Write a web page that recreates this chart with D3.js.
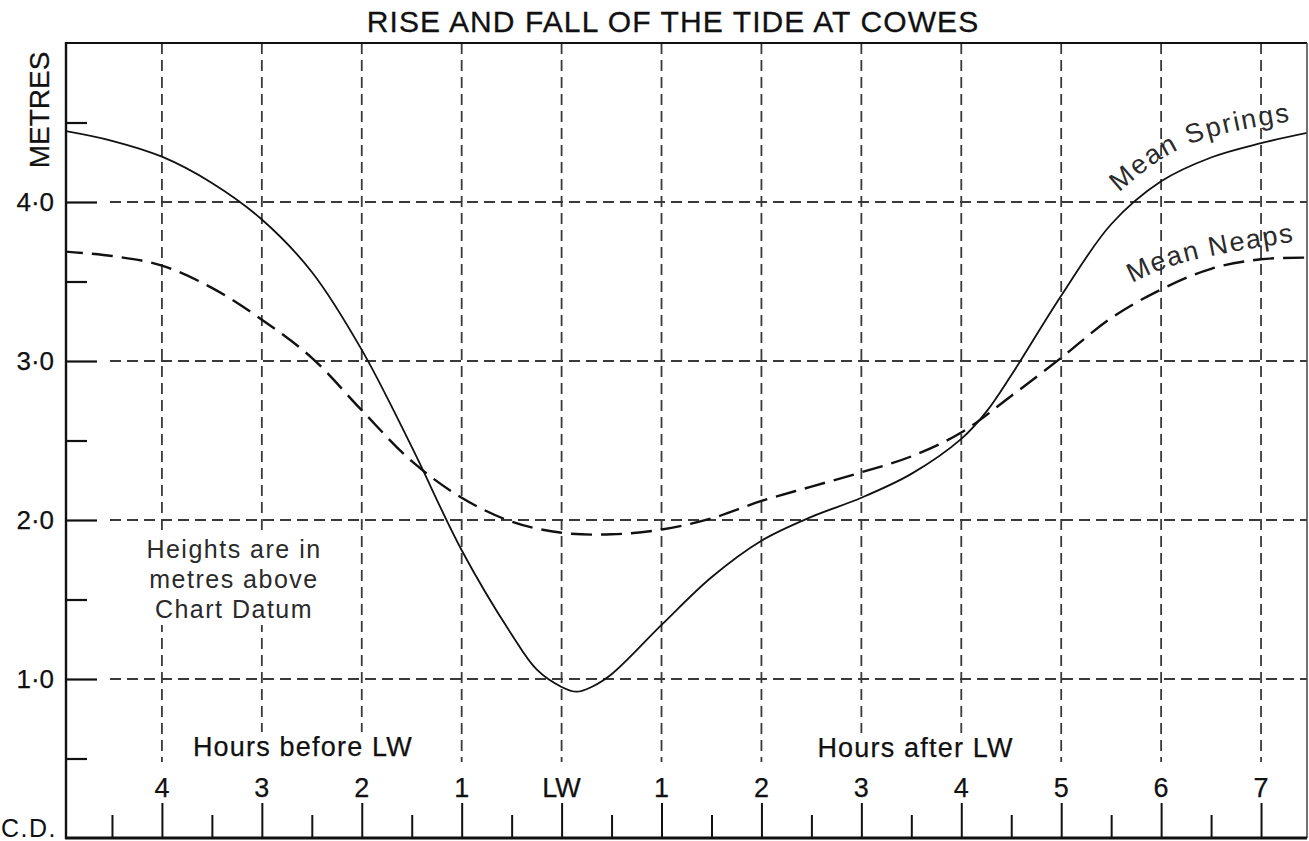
<!DOCTYPE html>
<html>
<head>
<meta charset="utf-8">
<script src="https://cdn.jsdelivr.net/npm/d3@7"></script>
<style>
  html, body { margin: 0; padding: 0; background: #fff; }
  svg { display: block; font-family: "Liberation Sans", Arial, Helvetica, sans-serif; }
</style>
</head>
<body>
<svg id="chart" width="1309" height="841"></svg>
<script>
// ---------------- DATA ----------------
const title = "RISE AND FALL OF THE TIDE AT COWES";

// Hours relative to low water (negative = before LW)
const springsHours = [-5, -4.5, -4, -3.5, -3, -2.5, -2, -1.5, -1, -0.5, -0.25, 0, 0.15, 0.3, 0.5, 1, 1.5, 2, 2.5, 3, 3.5, 4, 4.25, 4.5, 5, 5.5, 6, 6.5, 7, 7.5];
const springsHeights = [4.45, 4.385, 4.285, 4.12, 3.89, 3.56, 3.07, 2.46, 1.81, 1.28, 1.06, 0.95, 0.92, 0.95, 1.03, 1.34, 1.64, 1.87, 2.02, 2.14, 2.29, 2.51, 2.68, 2.91, 3.41, 3.86, 4.13, 4.28, 4.37, 4.44];

const neapsHours = [-5, -4.5, -4, -3.5, -3, -2.5, -2, -1.5, -1, -0.5, 0, 0.5, 1, 1.5, 2, 2.5, 3, 3.5, 4, 4.5, 5, 5.5, 6, 6.5, 7, 7.5];
const neapsHeights = [3.69, 3.66, 3.60, 3.46, 3.26, 3.02, 2.69, 2.37, 2.14, 1.99, 1.92, 1.91, 1.94, 2.01, 2.12, 2.21, 2.30, 2.40, 2.55, 2.78, 3.02, 3.27, 3.45, 3.58, 3.64, 3.65];

const hourTicks = [-4, -3, -2, -1, 0, 1, 2, 3, 4, 5, 6, 7];
const hourTickLabels = ["4", "3", "2", "1", "LW", "1", "2", "3", "4", "5", "6", "7"];
const halfHourTicks = [-4.5, -3.5, -2.5, -1.5, -0.5, 0.5, 1.5, 2.5, 3.5, 4.5, 5.5, 6.5];

const metreTicks = [1, 2, 3, 4];
const metreTickLabels = ["1·0", "2·0", "3·0", "4·0"];
const halfMetreTicks = [0.5, 1.5, 2.5, 3.5, 4.5];

// label guide paths (hours, metres)
const springsLabelPts = [[5.58, 4.06], [6.28, 4.36], [7.31, 4.51]];
const neapsLabelPts = [[5.71, 3.49], [6.29, 3.63], [7.32, 3.75]];

// ---------------- LAYOUT ----------------
const svg = d3.select("#chart");
const L = 66, R = 1307, T = 43, B = 838;

const x = d3.scaleLinear().domain([-4.96, 7.46]).range([L, R]);
const y = d3.scaleLinear().domain([0, 5]).range([B, T]);

const ink = "#111";
const gridInk = "#3a3a3a";

// clip
svg.append("defs").append("clipPath").attr("id", "plotClip")
  .append("rect").attr("x", L).attr("y", T).attr("width", R - L).attr("height", B - T);

// title
svg.append("text")
  .attr("x", 673).attr("y", 32)
  .attr("text-anchor", "middle")
  .attr("font-size", 30).attr("letter-spacing", 1.1)
  .attr("fill", ink).attr("stroke", ink).attr("stroke-width", 0.3)
  .text(title);

// ---------------- GRID ----------------
const grid = svg.append("g");
const gridBottom = B - 76;

grid.selectAll("line.v").data(hourTicks).enter().append("line")
  .attr("x1", d => x(d)).attr("x2", d => x(d))
  .attr("y1", T).attr("y2", gridBottom)
  .attr("stroke", gridInk).attr("stroke-width", 1.8)
  .attr("stroke-dasharray", "11,6");

grid.selectAll("line.h").data(metreTicks).enter().append("line")
  .attr("x1", L + 44).attr("x2", R)
  .attr("y1", d => y(d)).attr("y2", d => y(d))
  .attr("stroke", gridInk).attr("stroke-width", 1.8)
  .attr("stroke-dasharray", "11,6");

// helper: text with white backing
function maskedText(g, xPos, yPos, str, opts) {
  const t = g.append("text")
    .attr("x", xPos).attr("y", yPos)
    .attr("text-anchor", opts.anchor || "start")
    .attr("font-size", opts.size).attr("letter-spacing", opts.ls || 0)
    .attr("fill", opts.fill || ink).attr("stroke", opts.fill || ink).attr("stroke-width", 0.25)
    .text(str);
  const bb = t.node().getBBox();
  g.insert("rect", () => t.node())
    .attr("x", bb.x - 3).attr("y", bb.y).attr("width", bb.width + 6).attr("height", bb.height)
    .attr("fill", "#fff");
  return t;
}

const labels = svg.append("g");
maskedText(labels, x(-3.69), 756, "Hours before LW", { size: 27, ls: 1.2 });
maskedText(labels, x(2.56), 757, "Hours after LW", { size: 27, ls: 1.2 });

// Heights note
const note = svg.append("g");
const noteLines = ["Heights are in", "metres above", "Chart Datum"];
const noteText = note.append("text")
  .attr("text-anchor", "middle")
  .attr("font-size", 25).attr("letter-spacing", 1.5)
  .attr("fill", "#2a2a2a");
noteLines.forEach((s, i) => {
  noteText.append("tspan").attr("x", 234).attr("y", 558 + i * 30).text(s);
});
const nb = noteText.node().getBBox();
note.insert("rect", () => noteText.node())
  .attr("x", nb.x - 4).attr("y", nb.y - 2).attr("width", nb.width + 8).attr("height", nb.height + 4)
  .attr("fill", "#fff");

// ---------------- CURVES ----------------
const line = d3.line()
  .x(d => x(d[0])).y(d => y(d[1]))
  .curve(d3.curveCatmullRom.alpha(0.5));

const curves = svg.append("g").attr("clip-path", "url(#plotClip)");

curves.append("path")
  .datum(neapsHours.map((h, i) => [h, neapsHeights[i]]))
  .attr("d", line)
  .attr("fill", "none").attr("stroke", ink)
  .attr("stroke-width", 2.4).attr("stroke-dasharray", "21,9");

curves.append("path")
  .datum(springsHours.map((h, i) => [h, springsHeights[i]]))
  .attr("d", line)
  .attr("fill", "none").attr("stroke", ink)
  .attr("stroke-width", 1.8);

// curve labels along paths
const labelLine = d3.line().x(d => x(d[0])).y(d => y(d[1])).curve(d3.curveNatural);
const defs = svg.select("defs");
defs.append("path").attr("id", "springsLbl").attr("d", labelLine(springsLabelPts));
defs.append("path").attr("id", "neapsLbl").attr("d", labelLine(neapsLabelPts));

svg.append("text").attr("font-size", 27).attr("letter-spacing", 2).attr("fill", "#2a2a2a")
  .append("textPath").attr("href", "#springsLbl").text("Mean Springs");
svg.append("text").attr("font-size", 27).attr("letter-spacing", 1.6).attr("fill", "#2a2a2a")
  .append("textPath").attr("href", "#neapsLbl").text("Mean Neaps");

// ---------------- AXES / FRAME ----------------
const frame = svg.append("g");
frame.append("line").attr("x1", L).attr("x2", R).attr("y1", T).attr("y2", T)
  .attr("stroke", ink).attr("stroke-width", 2);
frame.append("line").attr("x1", R).attr("x2", R).attr("y1", T).attr("y2", B)
  .attr("stroke", "#444").attr("stroke-width", 1.5);

const yMajor = d3.axisRight(y).tickValues(metreTicks).tickSize(31).tickFormat("");
const yMinor = d3.axisRight(y).tickValues(halfMetreTicks).tickSize(21).tickFormat("");
const gyMaj = svg.append("g").attr("transform", `translate(${L},0)`).call(yMajor);
const gyMin = svg.append("g").attr("transform", `translate(${L},0)`).call(yMinor);
[gyMaj, gyMin].forEach(g => {
  g.select(".domain").remove();
  g.selectAll(".tick line").attr("stroke", ink).attr("stroke-width", 2.2);
});
frame.append("line").attr("x1", L).attr("x2", L).attr("y1", T - 1).attr("y2", B + 1)
  .attr("stroke", ink).attr("stroke-width", 2.4);

svg.append("g").selectAll("text").data(metreTicks).enter().append("text")
  .attr("x", 54).attr("y", d => y(d))
  .attr("dy", "0.35em")
  .attr("text-anchor", "end")
  .attr("font-size", 26).attr("fill", ink).attr("stroke", ink).attr("stroke-width", 0.25)
  .text((d, i) => metreTickLabels[i]);

svg.append("text")
  .attr("transform", `translate(49,110) rotate(-90)`)
  .attr("text-anchor", "middle")
  .attr("font-size", 28).attr("fill", ink).attr("stroke", ink).attr("stroke-width", 0.25)
  .text("METRES");

svg.append("text")
  .attr("x", 1).attr("y", 837)
  .attr("font-size", 25).attr("letter-spacing", 1.5).attr("fill", ink)
  .text("C.D.");

const xMajor = d3.axisTop(x).tickValues(hourTicks).tickSize(35).tickFormat("");
const xMinor = d3.axisTop(x).tickValues(halfHourTicks).tickSize(23).tickFormat("");
const gxMaj = svg.append("g").attr("transform", `translate(0,${B})`).call(xMajor);
const gxMin = svg.append("g").attr("transform", `translate(0,${B})`).call(xMinor);
[gxMaj, gxMin].forEach(g => {
  g.select(".domain").remove();
  g.selectAll(".tick line").attr("stroke", ink).attr("stroke-width", 2);
});
frame.append("line").attr("x1", L - 1).attr("x2", R).attr("y1", B).attr("y2", B)
  .attr("stroke", ink).attr("stroke-width", 3);

svg.append("g").selectAll("text").data(hourTicks).enter().append("text")
  .attr("x", d => x(d)).attr("y", 797)
  .attr("text-anchor", "middle")
  .attr("font-size", 27).attr("fill", ink).attr("stroke", ink).attr("stroke-width", 0.25)
  .text((d, i) => hourTickLabels[i]);
</script>
</body>
</html>
